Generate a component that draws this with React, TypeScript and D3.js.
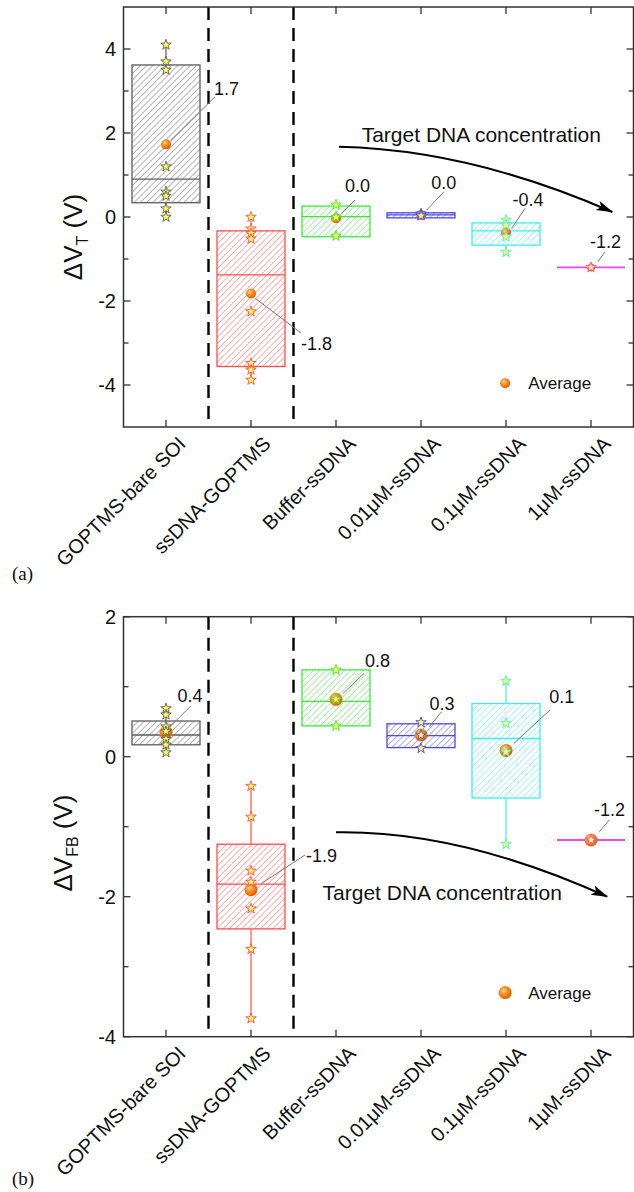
import React from 'react';
import * as d3 from 'd3';

// ---------- shared categories ----------
const categories = ["GOPTMS-bare SOI", "ssDNA-GOPTMS", "Buffer-ssDNA", "0.01μM-ssDNA", "0.1μM-ssDNA", "1μM-ssDNA"];
const boxColors = ["#5c5c5c", "#ff4d4d", "#3de83d", "#4a4ae6", "#40eeee", "#f044f0"];
const separators = [1.5, 2.5];

// ---------- panel (a): ΔVT ----------
const vtQ1 = [0.34, -3.56, -0.47, -0.02, -0.67, -1.2];
const vtMedian = [0.9, -1.38, 0.01, 0.05, -0.33, -1.2];
const vtQ3 = [3.62, -0.33, 0.26, 0.1, -0.14, -1.2];
const vtMean = [1.73, -1.82, -0.03, 0.05, -0.37, -1.2];
const vtMeanLabels = ["1.7", "-1.8", "0.0", "0.0", "-0.4", "-1.2"];
const vtPoints = [
  [4.1, 3.7, 3.5, 1.2, 0.6, 0.5, 0.2, 0.0],
  [0.0, -0.28, -0.39, -0.52, -2.25, -3.48, -3.64, -3.88],
  [0.29, 0.0, -0.45],
  [0.08, 0.05, 0.03],
  [-0.07, -0.19, -0.47, -0.84],
  [-1.2],
];
const vtTicks = [-4, -2, 0, 2, 4];

// ---------- panel (b): ΔVFB ----------
const fbQ1 = [0.17, -2.46, 0.44, 0.13, -0.59, -1.19];
const fbMedian = [0.31, -1.82, 0.79, 0.3, 0.26, -1.19];
const fbQ3 = [0.51, -1.25, 1.24, 0.47, 0.76, -1.19];
const fbMean = [0.35, -1.9, 0.82, 0.31, 0.09, -1.19];
const fbMeanLabels = ["0.4", "-1.9", "0.8", "0.3", "0.1", "-1.2"];
const fbPoints = [
  [0.69, 0.6, 0.43, 0.36, 0.25, 0.17, 0.06],
  [-0.42, -0.86, -1.63, -1.79, -2.17, -2.75, -3.74],
  [1.24, 0.82, 0.44],
  [0.49, 0.31, 0.12],
  [1.08, 0.48, 0.07, -1.25],
  [-1.19],
];
const fbTicks = [-4, -2, 0, 2];

// label leader layout (pixel offsets from mean marker): sx, sy, ex, ey, tx, ty, anchor
const vtLabelLayout: [number, number, number, number, number, number, string][] = [
  [5, -4, 49, -47.6, 48, -49.3, 'start'],
  [4, 4.6, 50, 39.6, 50, 56.6, 'start'],
  [5.7, -5, 19, -18.3, 21.5, -26.3, 'middle'],
  [5.7, -4.9, 23, -23.2, 22.7, -25.9, 'middle'],
  [5.7, -4.2, 19, -24.2, 22, -26.5, 'middle'],
  [7, -5.7, 14, -15.7, 14.5, -19.4, 'middle'],
];
const fbLabelLayout: [number, number, number, number, number, number, string][] = [
  [4, -5.5, 24.7, -26.2, 24, -30.2, 'middle'],
  [10.7, -6.4, 54, -34.7, 55, -27.7, 'start'],
  [7.3, -6, 28, -26, 41.5, -32.3, 'middle'],
  [8.3, -8.3, 20.7, -23.3, 21, -25, 'middle'],
  [8, -7.1, 44, -40.4, 55.7, -47.4, 'middle'],
  [8.3, -8.3, 18.3, -20, 18.5, -24, 'middle'],
];

const FONT = "Arial, 'Liberation Sans', Helvetica, sans-serif";
const xScale = d3.scaleLinear().domain([0.5, 6.5]).range([123.5, 633.5]);
const BOX_HALF = 0.4;

type PanelProps = {
  id: string;
  domain: [number, number];
  top: number;
  bottom: number;
  q1: number[]; med: number[]; q3: number[]; mean: number[];
  labels: string[]; points: number[][]; ticks: number[];
  layout: [number, number, number, number, number, number, string][];
  sub: string;
  titleX: number;
  titleY: number;
  arrow: [number, number][];
  arrowText: [number, number];
  legend: [number, number];
  meanR: number;
};

function Panel(p: PanelProps) {
  const y = d3.scaleLinear().domain(p.domain).range([p.bottom, p.top]);
  const [x0, x1] = xScale.range();
  const minors = d3.range(Math.ceil(p.domain[0]), Math.floor(p.domain[1]) + 1)
    .filter((v) => Math.abs(v % 2) === 1 && v > p.domain[0] && v < p.domain[1]);
  const star = d3.symbol().type(d3.symbolStar).size(34)();
  const [a0, ac, a1] = p.arrow;
  const arrowPath = `M${xScale(a0[0])},${y(a0[1])} Q${xScale(ac[0])},${y(ac[1])} ${xScale(a1[0])},${y(a1[1])}`;
  const bw = xScale(1 + BOX_HALF) - xScale(1);
  return (
    <g>
      <defs>
        {boxColors.map((c, i) => (
          <pattern key={i} id={`${p.id}-hatch${i}`} patternUnits="userSpaceOnUse" width={4.4} height={4.4} patternTransform="rotate(45)">
            <line x1={0} y1={0} x2={0} y2={4.4} stroke={c} strokeWidth={0.9} />
          </pattern>
        ))}
        <marker id={`${p.id}-arrow`} markerUnits="userSpaceOnUse" markerWidth={18} markerHeight={12} refX={16} refY={6} orient="auto">
          <path d="M0,1 L17,6 L0,11 L4,6 Z" fill="#000" />
        </marker>
      </defs>

      {/* separators */}
      {separators.map((s) => (
        <line key={s} x1={xScale(s)} x2={xScale(s)} y1={p.top} y2={p.bottom} stroke="#000" strokeWidth={2.4} strokeDasharray="13 8" />
      ))}

      {/* boxes */}
      {categories.map((c, i) => {
        const cx = xScale(i + 1);
        const pts = p.points[i];
        const lo = d3.min(pts) as number;
        const hi = d3.max(pts) as number;
        const col = boxColors[i];
        const flat = p.q3[i] === p.q1[i];
        return (
          <g key={c}>
            <line x1={cx} x2={cx} y1={y(p.q3[i])} y2={y(Math.max(hi, p.q3[i]))} stroke={col} strokeWidth={1.2} />
            <line x1={cx} x2={cx} y1={y(p.q1[i])} y2={y(Math.min(lo, p.q1[i]))} stroke={col} strokeWidth={1.2} />
            {!flat && (
              <>
                <rect x={cx - bw} width={2 * bw} y={y(p.q3[i])} height={y(p.q1[i]) - y(p.q3[i])} fill="#fff" />
                <rect x={cx - bw} width={2 * bw} y={y(p.q3[i])} height={y(p.q1[i]) - y(p.q3[i])} fill={`url(#${p.id}-hatch${i})`} stroke={col} strokeWidth={1.3} />
              </>
            )}
            <line x1={cx - bw} x2={cx + bw} y1={y(p.med[i])} y2={y(p.med[i])} stroke={col} strokeWidth={flat ? 1.8 : 1.3} />
          </g>
        );
      })}

      {/* mean markers */}
      {categories.map((c, i) => (
        <circle key={c} cx={xScale(i + 1)} cy={y(p.mean[i])} r={i === 5 && p.id === 'a' ? p.meanR - 1 : p.meanR} fill="url(#ball)" />
      ))}

      {/* data points */}
      {categories.map((c, i) =>
        p.points[i].map((v, j) => (
          <path key={`${c}-${j}`} d={star as string} transform={`translate(${xScale(i + 1)},${y(v)})`} fill="#ffff5a" stroke={boxColors[i]} strokeWidth={0.9} />
        ))
      )}

      {/* mean labels */}
      {categories.map((c, i) => {
        const mx = xScale(i + 1);
        const my = y(p.mean[i]);
        const [sx, sy, ex, ey, tx, ty, anchor] = p.layout[i];
        return (
          <g key={c}>
            <line x1={mx + sx} y1={my + sy} x2={mx + ex} y2={my + ey} stroke="#7a7a7a" strokeWidth={1} />
            <text x={mx + tx} y={my + ty} fontSize={18} fontFamily={FONT} textAnchor={anchor as any} fill="#111">{p.labels[i]}</text>
          </g>
        );
      })}

      {/* arrow annotation */}
      <path d={arrowPath} fill="none" stroke="#000" strokeWidth={2} markerEnd={`url(#${p.id}-arrow)`} />
      <text x={xScale(p.arrowText[0])} y={y(p.arrowText[1])} fontSize={21} fontFamily={FONT} textAnchor="middle" fill="#111">Target DNA concentration</text>

      {/* legend */}
      <circle cx={xScale(p.legend[0])} cy={y(p.legend[1])} r={p.meanR} fill="url(#ball)" />
      <text x={xScale(p.legend[0]) + 23} y={y(p.legend[1])} dy="0.35em" fontSize={17} fontFamily={FONT} fill="#111">Average</text>

      {/* frame + ticks */}
      <rect x={x0} y={p.top} width={x1 - x0} height={p.bottom - p.top} fill="none" stroke="#333" strokeWidth={1.5} />
      {p.ticks.map((t) => (
        <g key={t}>
          <line x1={x0} x2={x0 + 7} y1={y(t)} y2={y(t)} stroke="#333" strokeWidth={1.3} />
          <line x1={x1} x2={x1 - 7} y1={y(t)} y2={y(t)} stroke="#333" strokeWidth={1.3} />
          <text x={116} y={y(t)} dy="0.36em" textAnchor="end" fontSize={20} fontFamily={FONT} fill="#111">{t}</text>
        </g>
      ))}
      {minors.map((t) => (
        <g key={t}>
          <line x1={x0} x2={x0 + 5} y1={y(t)} y2={y(t)} stroke="#333" strokeWidth={1.3} />
          <line x1={x1} x2={x1 - 5} y1={y(t)} y2={y(t)} stroke="#333" strokeWidth={1.3} />
        </g>
      ))}
      {categories.map((c, i) => {
        const cx = xScale(i + 1);
        return (
          <g key={c}>
            <line x1={cx} x2={cx} y1={p.bottom} y2={p.bottom - 7} stroke="#333" strokeWidth={1.3} />
            <line x1={cx} x2={cx} y1={p.top} y2={p.top + 7} stroke="#333" strokeWidth={1.3} />
            <text transform={`translate(${cx + 21},${p.bottom + 18}) rotate(-45)`} textAnchor="end" fontSize={20} fontFamily={FONT} fill="#111">{c}</text>
          </g>
        );
      })}

      {/* y title */}
      <text transform={`translate(${p.titleX},${p.titleY}) rotate(-90)`} textAnchor="middle" fontSize={26} fontFamily={FONT} fill="#111">
        <tspan>ΔV</tspan>
        <tspan fontSize={16} dy={6}>{p.sub}</tspan>
        <tspan dy={-6}> (V)</tspan>
      </text>
    </g>
  );
}

export default function App() {
  return (
    <svg width={634} height={1192} style={{ position: 'absolute', left: 0, top: 0, background: '#fff' }}>
      <defs>
        <radialGradient id="ball" cx="38%" cy="35%" r="65%">
          <stop offset="0%" stopColor="#ffd9a8" />
          <stop offset="35%" stopColor="#ff9a2a" />
          <stop offset="100%" stopColor="#e25c00" />
        </radialGradient>
      </defs>
      <rect width={634} height={1192} fill="#fff" />
      <Panel
        id="a" domain={[-5, 5]} top={7} bottom={427}
        q1={vtQ1} med={vtMedian} q3={vtQ3} mean={vtMean} labels={vtMeanLabels} points={vtPoints} ticks={vtTicks}
        layout={vtLabelLayout} sub="T" titleX={82} titleY={237}
        arrow={[[3.035, 1.67], [4.58, 1.6], [6.25, 0.12]]} arrowText={[4.71, 1.79]} legend={[4.99, -3.96]} meanR={5}
      />
      <Panel
        id="b" domain={[-4, 2]} top={616.7} bottom={1036.7}
        q1={fbQ1} med={fbMedian} q3={fbQ3} mean={fbMean} labels={fbMeanLabels} points={fbPoints} ticks={fbTicks}
        layout={fbLabelLayout} sub="FB" titleX={72} titleY={843}
        arrow={[[3.0, -1.08], [4.46, -1.05], [6.19, -2.0]]} arrowText={[4.25, -2.05]} legend={[4.99, -3.37]} meanR={6.5}
      />
      <text x={12} y={580} fontSize={19} fontFamily="'Times New Roman', 'Liberation Serif', serif" fill="#111">(a)</text>
      <text x={12} y={1185} fontSize={19} fontFamily="'Times New Roman', 'Liberation Serif', serif" fill="#111">(b)</text>
    </svg>
  );
}
